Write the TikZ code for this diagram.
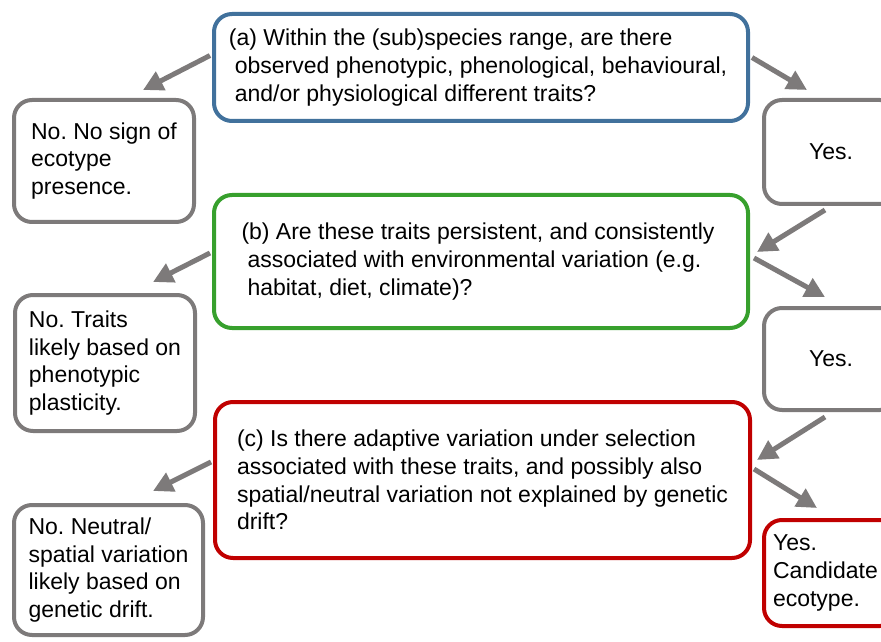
\documentclass[tikz,border=0pt]{standalone}
\usepackage{fontspec}
\setmainfont{Liberation Sans}
\definecolor{qblue}{RGB}{65, 113, 156}
\definecolor{qgreen}{RGB}{55, 160, 45}
\definecolor{qred}{RGB}{192, 0, 0}
\definecolor{boxgray}{RGB}{125, 122, 122}
\usetikzlibrary{arrows.meta, positioning, calc}

\tikzset{
  box/.style={draw, line width=2pt, rounded corners=9pt, fill=white, align=left,
    inner sep=0pt, font=\fontsize{11.5}{13.8}\selectfont\frenchspacing},
  answer/.style={box, draw=boxgray},
  yesbox/.style={answer, minimum width=67pt, text width=58pt, inner xsep=4.5pt},
  flow/.style={-{Triangle[length=10pt, width=10pt]}, line width=2.5pt, boxgray},
}

\begin{document}
\begin{tikzpicture}[x=0.5pt, y=-0.5pt]
  \useasboundingbox (0, 0) rectangle (881, 641);

  % Questions
  \node[box, draw=qblue, minimum width=267pt, minimum height=53.5pt] (qa) at (481, 67.5) {
    \hspace*{-3pt}(a) Within the (sub)species range, are there\\
    observed phenotypic, phenological, behavioural,\\
    and/or physiological different traits?};
  \node[box, draw=qgreen, minimum width=267pt, minimum height=66.5pt] (qb) at (481, 261.5) {
    \hspace*{-3pt}(b) Are these traits persistent, and consistently\\
    associated with environmental variation (e.g.\\
    habitat, diet, climate)?};
  \node[box, draw=qred, minimum width=267.5pt, minimum height=78pt] (qc) at (482.5, 480) {
    (c) Is there adaptive variation under selection\\
    associated with these traits, and possibly also\\
    spatial/neutral variation not explained by genetic\\
    drift?};

  % No answers
  \node[answer, minimum width=90pt, minimum height=61pt] (no1) at (104, 161) {
    No. No sign of\\ ecotype\\ presence.};
  \node[answer, minimum width=90pt, minimum height=68pt] (no2) at (105, 363) {
    No. Traits\\ likely based on\\ phenotypic\\ plasticity.};
  \node[answer, minimum width=94.5pt, minimum height=65pt] (no3) at (108.5, 570) {
    No. Neutral/\\ spatial variation\\ likely based on\\ genetic drift.};

  % Yes answers (cut by the right edge)
  \node[yesbox, align=center, minimum height=52pt] (yes1) at (831, 152) {Yes.};
  \node[yesbox, align=center, minimum height=51pt] (yes2) at (831, 359) {Yes.};
  \node[yesbox, draw=qred, minimum height=53pt] (yes3) at (831, 573) {
    Yes.\\ Candidate\\ ecotype.};

  % Arrows
  \draw[flow] ($(qa.west)+(-2, -12)$) -- ($(no1.north)+(39, -8)$);
  \draw[flow] ($(qa.east)+(2, -10)$) -- ($(yes1.north)+(-24, -8)$);
  \draw[flow] ($(yes1.south)+(-6, 4)$) -- ($(qb.east)+(7, -9.5)$);
  \draw[flow] ($(qb.east)+(4, -3.5)$) -- ($(yes2.north)+(-6, -9)$);
  \draw[flow] ($(qb.west)+(-2, -8.5)$) -- ($(no2.north)+(48, -11)$);
  \draw[flow] ($(yes2.south)+(-6, 5)$) -- ($(qc.east)+(5, -20)$);
  \draw[flow] ($(qc.east)+(2, -11)$) -- ($(yes3.north)+(-14, -10)$);
  \draw[flow] ($(qc.west)+(-2, -18)$) -- ($(no3.north)+(44.5, -12)$);
\end{tikzpicture}
\end{document}
